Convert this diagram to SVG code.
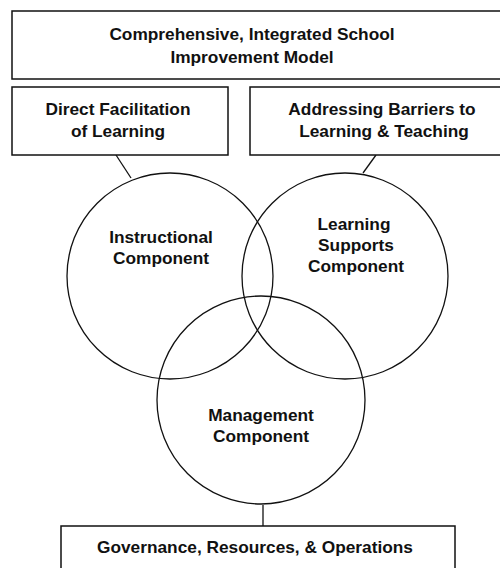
<svg xmlns="http://www.w3.org/2000/svg" width="500" height="568" viewBox="0 0 500 568">
<style>
.box{fill:#fff;stroke:#111;stroke-width:1.5}
.circ{fill:none;stroke:#111;stroke-width:1.3}
.conn{stroke:#111;stroke-width:1.3;fill:none}
text{font-family:"Liberation Sans",Arial,sans-serif;font-weight:bold;font-size:17.3px;fill:#111;text-anchor:middle}
</style>
<rect width="500" height="568" fill="#fff"/>
<g id="connectors">
<line class="conn" x1="116" y1="155" x2="131" y2="178"/>
<line class="conn" x1="376" y1="155" x2="363" y2="173"/>
<line class="conn" x1="263" y1="505" x2="263" y2="526"/>
</g>
<g id="model">
<rect class="box" x="12" y="11" width="500" height="68"/>
<text x="252" y="40">Comprehensive, Integrated School</text>
<text x="252" y="63">Improvement Model</text>
</g>
<g id="direct">
<rect class="box" x="12" y="87" width="216" height="68"/>
<text x="118" y="115">Direct Facilitation</text>
<text x="118" y="137">of Learning</text>
</g>
<g id="barriers">
<rect class="box" x="250" y="87" width="262" height="68"/>
<text x="382" y="115">Addressing Barriers to</text>
<text x="384" y="137">Learning &amp; Teaching</text>
</g>
<g id="instructional">
<circle class="circ" cx="170" cy="276" r="103"/>
<text x="161" y="243">Instructional</text>
<text x="161" y="264">Component</text>
</g>
<g id="supports">
<circle class="circ" cx="345" cy="276" r="103"/>
<text x="354" y="230">Learning</text>
<text x="356" y="251">Supports</text>
<text x="356" y="272">Component</text>
</g>
<g id="management">
<circle class="circ" cx="261" cy="400" r="104"/>
<text x="261" y="421">Management</text>
<text x="261" y="442">Component</text>
</g>
<g id="governance">
<rect class="box" x="61" y="526" width="394" height="60"/>
<text x="255" y="553">Governance, Resources, &amp; Operations</text>
</g>
</svg>
